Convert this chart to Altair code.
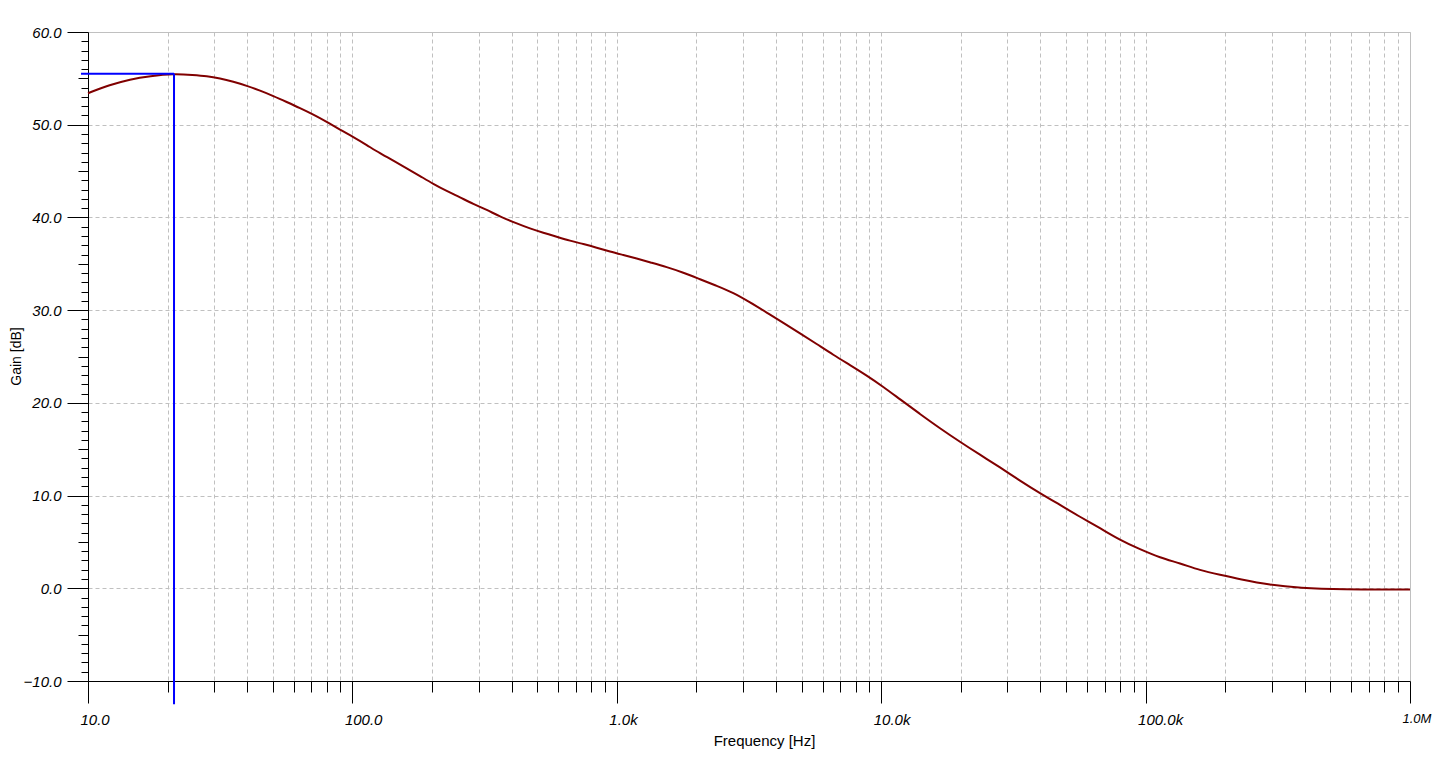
import altair as alt
import pandas as pd

# ---- data ----
freq_hz = [10, 12.11, 14.41, 17.16, 21.15, 25.02, 28.11, 31.57, 35.44, 39.84, 44.73,
           50.23, 56.43, 63.35, 71.14, 79.93, 89.78, 100.8, 113.3, 127.2, 142.8, 160.5,
           180.2, 202.3, 227.4, 255.3, 286.7, 322.2, 361.6, 418.3, 469.6, 527.2, 592.6,
           665.3, 747.0, 839.5, 942.6, 1058, 1189, 1336, 1544, 1784, 2064, 2387, 2758,
           3190, 3689, 4264, 4931, 5702, 6590, 7621, 8814, 10180, 11780, 14020, 16690,
           19860, 23640, 28130, 33500, 39870, 47450, 56490, 67220, 80040, 95240, 113400,
           134900, 160600, 191200, 227500, 295400, 383700, 543500, 1000000]
gain_db = [53.4, 54.3, 54.9, 55.25, 55.5, 55.36, 55.25, 55.0, 54.64, 54.21, 53.68,
           53.1, 52.45, 51.8, 51.1, 50.32, 49.45, 48.68, 47.81, 46.91, 46.12, 45.30,
           44.47, 43.61, 42.85, 42.17, 41.45, 40.82, 40.1, 39.35, 38.8, 38.35, 37.92,
           37.49, 37.13, 36.74, 36.32, 35.95, 35.57, 35.16, 34.66, 34.06, 33.33, 32.62, 31.88,
           30.84, 29.74, 28.64, 27.50, 26.35, 25.18, 24.08, 22.96, 21.74, 20.38, 18.8, 17.25,
           15.8, 14.4, 13.05, 11.6, 10.25, 8.99, 7.7, 6.5, 5.2, 4.2, 3.3,
           2.7, 1.94, 1.45, 0.97, 0.35, 0.03, -0.13, -0.13]

cursor_freq = 21.15
cursor_gain = 55.5
cursor_x_start = 9.41     # horizontal cursor starts a little left of the axis
cursor_y_end = -12.5      # vertical cursor runs down past the axis

x_major = [10, 100, 1000, 10000, 100000, 1000000]
x_major_labels = ["10.0", "100.0", "1.0k", "10.0k", "100.0k", "1.0M"]
x_ticks = [10, 20, 30, 40, 50, 60, 70, 80, 90,
           100, 200, 300, 400, 500, 600, 700, 800, 900,
           1000, 2000, 3000, 4000, 5000, 6000, 7000, 8000, 9000,
           10000, 20000, 30000, 40000, 50000, 60000, 70000, 80000, 90000,
           100000, 200000, 300000, 400000, 500000, 600000, 700000, 800000, 900000,
           1000000]
y_ticks = list(range(-10, 61))

FONT = "Liberation Sans"
GRID = "#c0c0c0"

major_list = "[" + ",".join(str(v) for v in x_major) + "]"
is_major_x = f"indexof({major_list}, datum.value) >= 0"
x_label_expr = ""
for v, lab in zip(x_major, x_major_labels):
    x_label_expr += f"datum.value === {v} ? '{lab}' : "
x_label_expr += "''"

x_axis = alt.Axis(
    values=x_ticks, title="Frequency [Hz]", labelExpr=x_label_expr,
    labelFont=FONT, labelFontStyle="italic", labelColor="#000",
    labelFontSize={"condition": {"test": "datum.value === 1000000", "value": 13}, "value": 15},
    labelAlign="left", labelOffset=-8,
    labelBaseline="top", labelPadding=9,
    labelOverlap=False, labelFlush=False, labelBound=False,
    tickColor="#000", tickWidth=1,
    tickSize={"condition": {"test": is_major_x, "value": 22}, "value": 11},
    domainColor="#000", domainWidth=1,
    grid=True, gridColor=GRID, gridDash=[4, 3], gridWidth=1,
    titleFont=FONT, titleFontSize=15, titleFontWeight="normal", titleColor="#000",
    titleX=676, titleY=59, titleBaseline="middle", titleAnchor="middle", titleAlign="center",
)

y_axis = alt.Axis(
    values=y_ticks, title="Gain [dB]",
    labelExpr="datum.value % 10 === 0 ? format(datum.value, '.1f') : ''",
    labelFont=FONT, labelFontSize=15, labelFontStyle="italic", labelColor="#000",
    labelPadding=6, labelOverlap=False, labelFlush=False, labelBound=False,
    tickColor="#000", tickWidth=1,
    tickSize={"condition": [{"test": "datum.value % 10 === 0", "value": 21},
                            {"test": "datum.value % 5 === 0", "value": 10}], "value": 7},
    domainColor="#000", domainWidth=1,
    grid=True, gridColor=GRID, gridDash=[4, 3], gridWidth=1,
    gridOpacity={"condition": {"test": "datum.value % 10 === 0", "value": 1}, "value": 0},
    titleFont=FONT, titleFontSize=14, titleFontWeight="normal", titleColor="#000",
    titleX=-72, titleY=324, titleBaseline="middle", titleAnchor="middle", titleAlign="center",
    titleAngle=-90,
)

xs = alt.Scale(type="log", domain=[10, 1000000], nice=False)
ys = alt.Scale(domain=[-10, 60], nice=False, zero=False)

curve_df = pd.DataFrame({"f": freq_hz, "g": gain_db})
vcur_df = pd.DataFrame({"f": [cursor_freq], "g": [cursor_gain], "g2": [cursor_y_end]})
hcur_df = pd.DataFrame({"f": [cursor_x_start], "f2": [cursor_freq], "g": [cursor_gain]})

curve = alt.Chart(curve_df).mark_line(color="#800000", strokeWidth=2, interpolate="basis").encode(
    x=alt.X("f:Q", scale=xs, axis=x_axis),
    y=alt.Y("g:Q", scale=ys, axis=y_axis),
)
vcur = alt.Chart(vcur_df).mark_rule(color="#0000ff", strokeWidth=2).encode(
    x=alt.X("f:Q", scale=xs, axis=x_axis),
    y=alt.Y("g:Q", scale=ys, axis=y_axis),
    y2="g2:Q",
)
hcur = alt.Chart(hcur_df).mark_rule(color="#0000ff", strokeWidth=2).encode(
    x=alt.X("f:Q", scale=xs, axis=x_axis),
    x2="f2:Q",
    y=alt.Y("g:Q", scale=ys, axis=y_axis),
)

chart = alt.layer(curve, vcur, hcur).properties(
    width=1322, height=649,
    padding={"left": 80, "top": 24, "right": 22, "bottom": 68},
    autosize=alt.AutoSizeParams(type="none"),
    background="#ffffff",
).configure_view(stroke=GRID, strokeWidth=1)

chart.save("out.html", embed_options={"renderer": "svg", "actions": False})
